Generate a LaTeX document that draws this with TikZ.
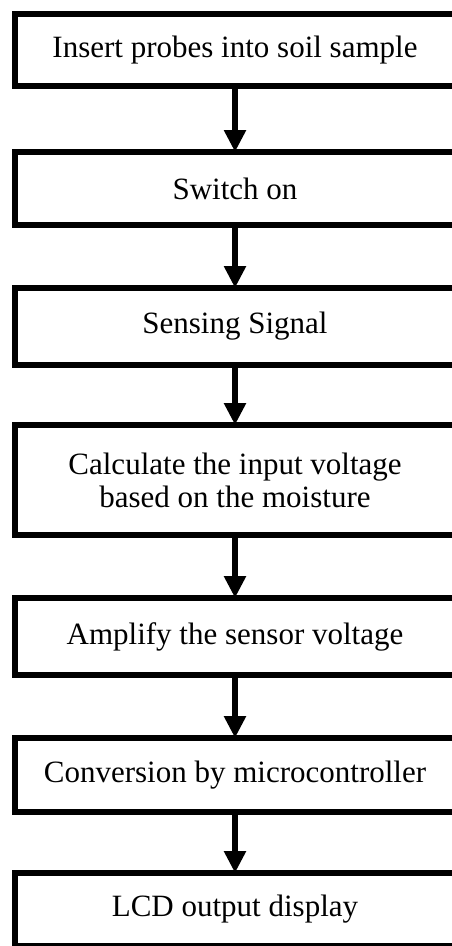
\documentclass[tikz,border=0pt]{standalone}
\usepackage{fontspec}
\setmainfont{Liberation Serif}
\usetikzlibrary{arrows.meta}
\begin{document}
\begin{tikzpicture}[x=1pt,y=-1pt,
  stepbox/.style={draw=black,line width=5.5pt,outer sep=0pt,inner sep=0pt,
    minimum width=440pt,align=center,font=\fontsize{31}{33}\selectfont},
  flow/.style={line width=6.5pt,-{Triangle[width=21pt,length=22pt]}}]
\useasboundingbox (0,0) rectangle (452,946);
\node[stepbox,minimum height=72pt] (b1) at (235,50) {Insert probes into soil sample};
\node[stepbox,minimum height=73pt] (b2) at (235,188.5) {Switch on};
\node[stepbox,minimum height=77pt] (b3) at (235,326.5) {Sensing Signal};
\node[stepbox,minimum height=110pt] (b4) at (235,480) {Calculate the input voltage\\based on the moisture};
\node[stepbox,minimum height=77pt] (b5) at (235,636.5) {Amplify the sensor voltage};
\node[stepbox,minimum height=74pt] (b6) at (235,775) {Conversion by microcontroller};
\node[stepbox,minimum height=73pt] (b7) at (235,909.5) {LCD output display};
\draw[flow] (b1.south) -- (b2.north);
\draw[flow] (b2.south) -- (b3.north);
\draw[flow] (b3.south) -- (b4.north);
\draw[flow] (b4.south) -- (b5.north);
\draw[flow] (b5.south) -- (b6.north);
\draw[flow] (b6.south) -- (b7.north);
\end{tikzpicture}
\end{document}
